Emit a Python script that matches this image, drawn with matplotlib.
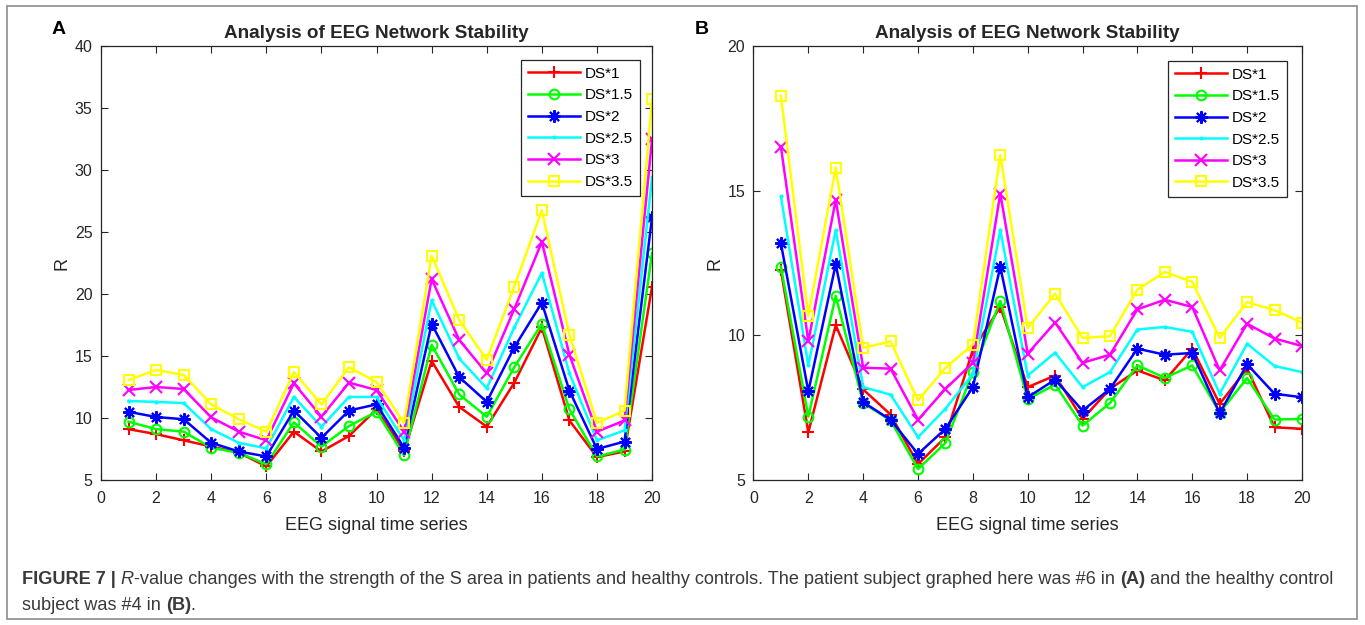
import numpy as np
import matplotlib
matplotlib.use("Agg")
from matplotlib import pyplot as plt
from matplotlib.patches import Rectangle

# time series index
x = np.arange(1, 21)
labels = ['DS*1', 'DS*1.5', 'DS*2', 'DS*2.5', 'DS*3', 'DS*3.5']

# panel A - patient #6
a_ds1 = [9.1, 8.7, 8.2, 7.7, 7.2, 6.1, 8.9, 7.3, 8.55, 10.7, 7.3, 14.6, 10.9, 9.3, 12.85, 17.3, 9.8, 6.85, 7.3, 20.6]
a_ds15 = [9.7, 9.1, 8.9, 7.6, 7.2, 6.27, 9.65, 7.7, 9.35, 10.5, 7.0, 15.9, 11.9, 10.1, 14.1, 17.6, 10.7, 6.9, 7.45, 23.3]
a_ds2 = [10.5, 10.08, 9.9, 8.0, 7.3, 6.9, 10.6, 8.4, 10.6, 11.1, 7.6, 17.6, 13.3, 11.3, 15.7, 19.3, 12.2, 7.5, 8.1, 26.2]
a_ds25 = [11.37, 11.3, 11.2, 9.1, 8.0, 7.55, 11.7, 9.3, 11.7, 11.7, 8.2, 19.5, 14.8, 12.4, 17.3, 21.7, 13.6, 8.2, 9.0, 29.4]
a_ds3 = [12.26, 12.5, 12.34, 10.05, 8.9, 8.2, 12.8, 10.1, 12.85, 12.26, 8.9, 21.2, 16.3, 13.6, 18.8, 24.2, 15.1, 8.9, 9.8, 32.5]
a_ds35 = [13.06, 13.87, 13.47, 11.1, 9.9, 8.9, 13.7, 11.1, 14.1, 12.9, 9.6, 23.1, 17.9, 14.7, 20.6, 26.75, 16.7, 9.6, 10.6, 35.7]

# panel B - healthy control #4
b_ds1 = [12.25, 6.65, 10.35, 8.13, 7.26, 5.55, 6.48, 9.5, 10.98, 8.21, 8.61, 7.11, 8.15, 8.79, 8.44, 9.54, 7.63, 8.85, 6.82, 6.77]
b_ds15 = [12.37, 7.19, 11.36, 7.66, 7.06, 5.38, 6.28, 8.73, 11.19, 7.79, 8.3, 6.88, 7.66, 8.96, 8.53, 8.96, 7.33, 8.52, 7.09, 7.11]
b_ds2 = [13.18, 8.06, 12.46, 7.69, 7.08, 5.9, 6.77, 8.21, 12.37, 7.86, 8.47, 7.4, 8.15, 9.54, 9.33, 9.39, 7.31, 9.0, 7.98, 7.86]
b_ds25 = [14.8, 8.96, 13.64, 8.21, 7.95, 6.48, 7.46, 8.67, 13.64, 8.61, 9.4, 8.21, 8.73, 10.2, 10.29, 10.12, 7.98, 9.71, 8.94, 8.73]
b_ds3 = [16.52, 9.79, 14.68, 8.88, 8.85, 7.08, 8.15, 9.05, 14.9, 9.37, 10.44, 9.05, 9.33, 10.9, 11.23, 10.98, 8.79, 10.4, 9.89, 9.63]
b_ds35 = [18.28, 10.66, 15.8, 9.57, 9.79, 7.75, 8.88, 9.68, 16.23, 10.25, 11.44, 9.91, 9.97, 11.58, 12.19, 11.85, 9.91, 11.15, 10.87, 10.44]

colors = ['#ff0000', '#00ff00', '#0000ff', '#00ffff', '#ff00ff', '#ffff00']
markers = ['+', 'o', (8, 2, 0), '.', 'x', 's']   # matlab style asterisk for DS*2
msizes = [9, 7, 9, 3, 8, 7]

plt.rcParams['font.family'] = ['Liberation Sans', 'DejaVu Sans']
txt = '#262626'

fig = plt.figure(figsize=(13.65, 6.25), dpi=100)

# grey frame round the whole figure
fig.add_artist(Rectangle((0.005, 0.01), 0.989, 0.98, transform=fig.transFigure,
                         fill=False, edgecolor='#8c8c8c', linewidth=1.2))

ax1 = fig.add_axes([0.074, 0.232, 0.4037, 0.6944])
ax2 = fig.add_axes([0.552, 0.232, 0.4018, 0.6944])


def draw(ax, series, ylim, yticks, leg_anchor):
    for s, c, m, ms, lab in zip(series, colors, markers, msizes, labels):
        hollow = isinstance(m, str) and m in 'os'
        ax.plot(x, s, color=c, marker=m, markersize=ms, linewidth=1.8,
                markerfacecolor='none' if hollow else c,
                markeredgewidth=1.5, label=lab)
    ax.set_xlim(0, 20)
    ax.set_ylim(*ylim)
    ax.set_xticks(np.arange(0, 21, 2))
    ax.set_yticks(yticks)
    ax.tick_params(direction='in', top=True, right=True, length=5, width=0.8,
                   labelsize=11.5, colors=txt)
    ax.tick_params(axis='x', pad=8)
    ax.tick_params(axis='y', pad=6)
    for sp in ax.spines.values():
        sp.set_color(txt)
        sp.set_linewidth(0.9)
    ax.set_title('Analysis of EEG Network Stability', fontsize=13.6,
                 fontweight='bold', color=txt, pad=6)
    ax.set_xlabel('EEG signal time series', fontsize=13, color=txt, labelpad=8)
    ax.set_ylabel('R', fontsize=13, color=txt, labelpad=3)
    leg = ax.legend(loc='upper right', bbox_to_anchor=leg_anchor, fontsize=11,
                    handlelength=3.45, labelspacing=0.5, borderpad=0.45,
                    handletextpad=0.3, borderaxespad=0, fancybox=False,
                    framealpha=1, edgecolor='#262626')
    leg.get_frame().set_linewidth(0.9)


draw(ax1, [a_ds1, a_ds15, a_ds2, a_ds25, a_ds3, a_ds35], (5, 40),
     np.arange(5, 41, 5), (0.978, 0.968))
draw(ax2, [b_ds1, b_ds15, b_ds2, b_ds25, b_ds3, b_ds35], (5, 20),
     np.arange(5, 21, 5), (0.9726, 0.966))

fig.text(0.038, 0.952, 'A', fontsize=14, fontweight='bold', va='center')
fig.text(0.509, 0.952, 'B', fontsize=14, fontweight='bold', va='center')

# caption, built from pieces so bold / italic parts line up
cap = fig.add_axes([0, 0, 1, 1])
cap.axis('off')
ccol = '#3a3a3a'
fs = 13.05


def chain(parts, x0, y0):
    prev = None
    for s, w, st in parts:
        if prev is None:
            prev = cap.text(x0, y0, s, transform=fig.transFigure, fontsize=fs,
                            fontweight=w, fontstyle=st, color=ccol,
                            va='baseline', ha='left')
        else:
            prev = cap.annotate(s, xy=(1, 0), xycoords=prev, xytext=(0, 0),
                                textcoords='offset points', va='bottom', ha='left',
                                fontsize=fs, fontweight=w, fontstyle=st, color=ccol)


chain([('FIGURE 7 |', 'bold', 'normal'), (' ', 'normal', 'normal'),
       ('R', 'normal', 'italic'),
       ('-value changes with the strength of the S area in patients and healthy controls. '
        'The patient subject graphed here was #6 in ', 'normal', 'normal'),
       ('(A)', 'bold', 'normal'), (' and the healthy control', 'normal', 'normal')],
      0.016, 0.066)
chain([('subject was #4 in ', 'normal', 'normal'), ('(B)', 'bold', 'normal'),
       ('.', 'normal', 'normal')], 0.016, 0.024)

fig.savefig('out.png', dpi=100)
